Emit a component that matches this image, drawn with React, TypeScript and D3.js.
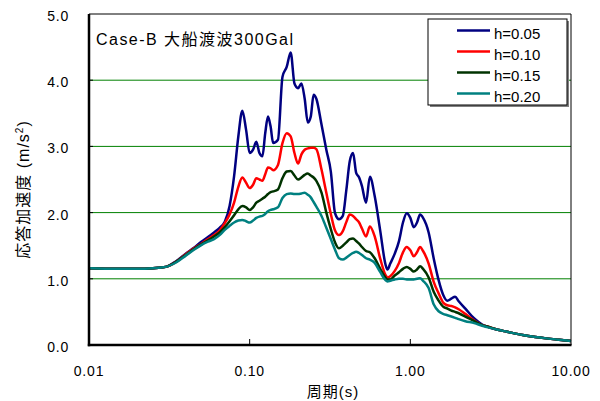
import React from 'react';
import * as d3 from 'd3';

// period (s)
const periods = [0.01, 0.015, 0.02, 0.025, 0.03, 0.035, 0.04, 0.045, 0.05, 0.055,
  0.06, 0.065, 0.07, 0.075, 0.08, 0.085, 0.09, 0.095, 0.1, 0.105,
  0.11, 0.115, 0.12, 0.125, 0.13, 0.135, 0.14, 0.15, 0.16, 0.17,
  0.18, 0.19, 0.2, 0.21, 0.22, 0.23, 0.24, 0.25, 0.26, 0.28,
  0.3, 0.32, 0.34, 0.36, 0.38, 0.4, 0.42, 0.44, 0.46, 0.48,
  0.5, 0.53, 0.56, 0.6, 0.65, 0.7, 0.72, 0.75, 0.8, 0.85,
  0.9, 0.95, 1.0, 1.05, 1.1, 1.15, 1.2, 1.3, 1.4, 1.5,
  1.6, 1.7, 1.8, 1.9, 2.0, 2.2, 2.5, 2.8, 3.0, 3.5,
  4, 5, 6, 7, 8, 9, 10];

const h005 = [1.16, 1.15, 1.15, 1.16, 1.18, 1.27, 1.38, 1.47, 1.56, 1.63,
  1.70, 1.77, 1.86, 2.10, 2.55, 3.15, 3.54, 3.25, 2.90, 2.95,
  3.07, 2.90, 2.85, 3.20, 3.45, 3.30, 3.05, 3.10, 4.05, 4.20,
  4.42, 3.95, 3.88, 3.95, 3.72, 3.36, 3.45, 3.78, 3.72, 3.33,
  2.95, 2.62, 1.99, 1.90, 1.95, 2.35, 2.78, 2.90, 2.60, 2.53,
  2.40, 2.15, 2.54, 2.25, 1.72, 1.22, 1.14, 1.23, 1.38, 1.57,
  1.85, 1.99, 1.92, 1.78, 1.85, 1.97, 1.92, 1.70, 1.30, 0.98,
  0.76, 0.67, 0.70, 0.73, 0.66, 0.55, 0.40, 0.31, 0.28, 0.23,
  0.20, 0.15, 0.12, 0.10, 0.085, 0.07, 0.06];

const h010 = [1.16, 1.15, 1.15, 1.16, 1.18, 1.26, 1.37, 1.46, 1.53, 1.60,
  1.66, 1.73, 1.84, 1.97, 2.15, 2.39, 2.53, 2.45, 2.37, 2.42,
  2.52, 2.50, 2.48, 2.58, 2.68, 2.67, 2.64, 2.72, 3.05, 3.20,
  3.15, 2.90, 2.74, 2.88, 2.95, 2.97, 2.98, 2.98, 2.96, 2.65,
  2.30, 1.98, 1.73, 1.66, 1.72, 1.86, 1.97, 1.95, 1.90, 1.85,
  1.76, 1.64, 1.79, 1.64, 1.30, 1.06, 1.02, 1.04, 1.12, 1.24,
  1.40, 1.48, 1.43, 1.34, 1.40, 1.48, 1.42, 1.23, 0.95, 0.78,
  0.64, 0.60, 0.59, 0.57, 0.54, 0.47, 0.37, 0.30, 0.28, 0.23,
  0.20, 0.15, 0.12, 0.10, 0.085, 0.07, 0.06];

const h015 = [1.16, 1.15, 1.15, 1.16, 1.18, 1.26, 1.36, 1.45, 1.52, 1.58,
  1.64, 1.70, 1.78, 1.87, 1.96, 2.05, 2.10, 2.08, 2.04, 2.08,
  2.15, 2.18, 2.21, 2.24, 2.28, 2.31, 2.32, 2.35, 2.52, 2.62,
  2.63, 2.56, 2.50, 2.53, 2.57, 2.59, 2.56, 2.53, 2.48, 2.30,
  2.00, 1.75, 1.55, 1.46, 1.50, 1.55, 1.60, 1.61, 1.57, 1.53,
  1.48, 1.42, 1.40, 1.31, 1.15, 1.02, 0.99, 0.99, 1.05, 1.10,
  1.15, 1.18, 1.15, 1.11, 1.14, 1.19, 1.15, 1.02, 0.80, 0.67,
  0.58, 0.55, 0.52, 0.50, 0.48, 0.43, 0.36, 0.30, 0.28, 0.23,
  0.20, 0.15, 0.12, 0.10, 0.085, 0.07, 0.06];

const h020 = [1.16, 1.15, 1.15, 1.16, 1.18, 1.25, 1.35, 1.44, 1.51, 1.56,
  1.60, 1.66, 1.74, 1.80, 1.85, 1.88, 1.89, 1.87, 1.85, 1.88,
  1.92, 1.94, 1.95, 1.98, 2.02, 2.04, 2.05, 2.08, 2.22, 2.28,
  2.29, 2.28, 2.28, 2.29, 2.30, 2.27, 2.23, 2.16, 2.09, 1.95,
  1.77, 1.60, 1.44, 1.31, 1.29, 1.32, 1.36, 1.39, 1.41, 1.39,
  1.36, 1.31, 1.29, 1.24, 1.10, 0.98, 0.96, 0.97, 0.99, 1.00,
  1.00, 0.99, 0.99, 0.99, 1.00, 1.01, 0.97, 0.86, 0.61, 0.51,
  0.47, 0.45, 0.43, 0.41, 0.39, 0.36, 0.33, 0.29, 0.27, 0.23,
  0.20, 0.15, 0.12, 0.10, 0.085, 0.07, 0.06];

const seriesNames = ['h=0.05', 'h=0.10', 'h=0.15', 'h=0.20'];
const seriesValues = [h005, h010, h015, h020];
const seriesColors = ['#000080', '#ff0000', '#003300', '#008080'];

const xTicks = [0.01, 0.1, 1, 10];
const xTickLabels = ['0.01', '0.10', '1.00', '10.00'];
const yTicks = [0, 1, 2, 3, 4, 5];
const yGrid = [1, 2, 3, 4];

const W = 600;
const H = 401;
const left = 89, right = 571, top = 14, bottom = 345;

const numFont = '"Liberation Sans", Arial, sans-serif';
const jpFont = '"Liberation Sans", "Noto Sans CJK JP", sans-serif';

export default function App() {
  const x = d3.scaleLog().domain([0.01, 10]).range([left, right]);
  const y = d3.scaleLinear().domain([0, 5]).range([bottom, top]);

  const line = d3.line<number>()
    .x((_, i) => x(periods[i]))
    .y(d => y(d))
    .curve(d3.curveMonotoneX);

  return (
    <svg width={W} height={H} style={{ position: 'absolute', left: 0, top: 0, background: '#fff' }}>
      {/* grid */}
      {yGrid.map(v => (
        <line key={v} x1={left} x2={right} y1={y(v)} y2={y(v)} stroke="#008000" strokeWidth={1} />
      ))}

      {/* curves */}
      {seriesValues.map((vals, i) => (
        <path key={i} d={line(vals) || ''} fill="none" stroke={seriesColors[i]}
          strokeWidth={2.5} strokeLinejoin="round" />
      ))}

      {/* frame */}
      <line x1={left} x2={right} y1={top} y2={top} stroke="#000" strokeWidth={1} />
      <line x1={right} x2={right} y1={top} y2={bottom} stroke="#000" strokeWidth={1} />
      <line x1={left} x2={left} y1={top} y2={bottom + 1.2} stroke="#000" strokeWidth={2.5} />
      <line x1={left - 1.2} x2={right + 0.5} y1={bottom} y2={bottom} stroke="#000" strokeWidth={2.5} />

      {/* ticks */}
      {xTicks.slice(1, 3).map(t => (
        <line key={t} x1={x(t)} x2={x(t)} y1={bottom} y2={bottom - 6} stroke="#000" strokeWidth={1} />
      ))}
      {yTicks.slice(1, 5).map(t => (
        <line key={t} x1={left} x2={left + 4} y1={y(t)} y2={y(t)} stroke="#000" strokeWidth={1} />
      ))}

      {/* tick labels */}
      {yTicks.map(t => (
        <text key={t} x={69} y={y(t) + 7} textAnchor="end" fontFamily={numFont} fontSize={14}
          letterSpacing={0.8} fill="#000">{t.toFixed(1)}</text>
      ))}
      {xTicks.map((t, i) => (
        <text key={t} x={x(t)} y={376} textAnchor="middle" fontFamily={numFont} fontSize={14}
          letterSpacing={0.8} fill="#000">{xTickLabels[i]}</text>
      ))}

      {/* axis titles */}
      <text x={(left + right) / 2 + 3} y={397} textAnchor="middle" fontFamily={jpFont} fontSize={15}
        letterSpacing={1} fill="#000">
        周期(s)
      </text>
      <text transform={`translate(29,${(top + bottom) / 2 + 10}) rotate(-90)`} textAnchor="middle"
        fontFamily={jpFont} fontSize={16} letterSpacing={1} fill="#000">
        応答加速度 (m/s<tspan dy={-6} fontSize={10}>2</tspan><tspan dy={6}>)</tspan>
      </text>

      {/* chart title */}
      <text x={96} y={45} fontFamily={jpFont} fontSize={16} textLength={197} lengthAdjust="spacing" fill="#000">
        Case-B 大船渡波300Gal
      </text>

      {/* legend */}
      <rect x={430} y={21} width={139} height={86} fill="#808080" />
      <rect x={428} y={19} width={139} height={86} fill="#fff" stroke="#000" strokeWidth={1} />
      {seriesNames.map((name, i) => {
        const ly = 30.5 + i * 21;
        return (
          <g key={name}>
            <line x1={457} x2={490} y1={ly} y2={ly} stroke={seriesColors[i]} strokeWidth={2.5} />
            <text x={494} y={ly + 8.5} fontFamily={numFont} fontSize={15} fill="#000">{name}</text>
          </g>
        );
      })}
    </svg>
  );
}
